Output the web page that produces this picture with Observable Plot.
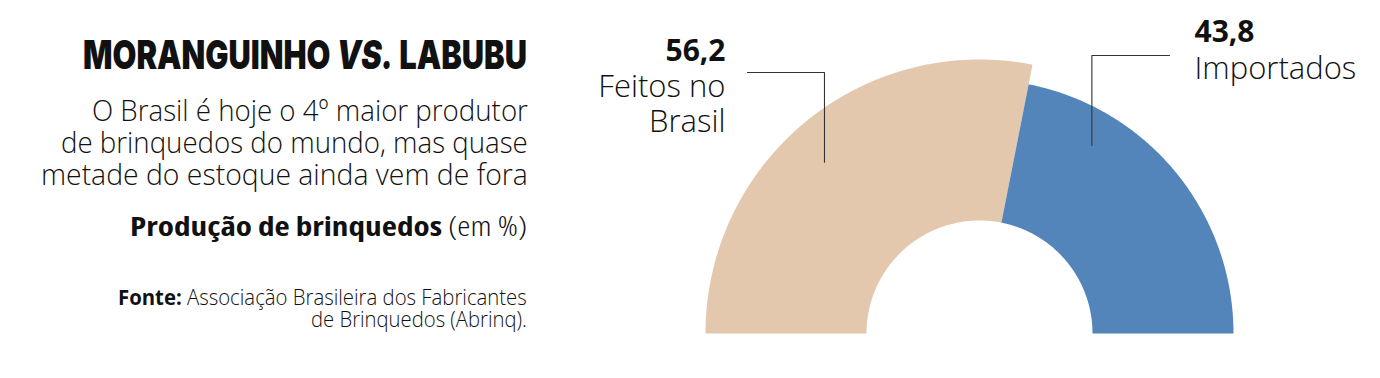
<!DOCTYPE html>
<html><head><meta charset="utf-8">
<script src="https://cdn.jsdelivr.net/npm/d3@7"></script>
<script src="https://cdn.jsdelivr.net/npm/@observablehq/plot@0.6"></script>
<style>
html,body{margin:0;padding:0;background:#fff;}
#wrap{position:relative;width:1380px;height:378px;overflow:hidden;background:#fff;}
#wrap > svg{position:absolute;left:0;top:0;}
#wrap text{white-space:pre;font-stretch:88%;}
</style></head><body><div id="wrap"></div>
<script>
// ---- data ----
const categories = ["Feitos no Brasil", "Importados"];
const values = [56.2, 43.8];
const labelLines = ["Feitos no\nBrasil", "Importados"];
const colors = ["#e4c8ae", "#5485ba"];

const titleParts = ["MORANGUINHO ", "VS.", " LABUBU"];
const subtitleLines = ["O Brasil é hoje o 4º maior produtor", "de brinquedos do mundo, mas quase", "metade do estoque ainda vem de fora"];
const chartTitleParts = ["Produção de brinquedos", " (em %)"];
const sourceParts = ["Fonte:", " Associação Brasileira dos Fabricantes"];
const sourceLine2 = "de Brinquedos (Abrinq).";

// ---- layout (pixels) ----
const W = 1380, H = 378;
const CX = 979, CY = 333;
const R_IN = 113;
const R_OUT = [274, 254];
const FONT = "'Open Sans', 'DejaVu Sans Condensed', sans-serif";
const layout = [
  {anchorFrac: 0.473, anchorR: 231, elbowY: 261, lineEndX: -232, textX: -254, anchor: "end", valueY: 273, nameY: 202},
  {anchorFrac: 0.25, anchorR: 219, elbowY: 278, lineEndX: 190, textX: 215, anchor: "start", valueY: 292, nameY: 255}
];

// ---- geometry from data ----
const arcs = d3.pie().sort(null).startAngle(-Math.PI / 2).endAngle(Math.PI / 2)(values);
const arcPts = [];
arcs.forEach((p, i) => {
  const n = 200;
  for (let k = 0; k <= n; k++) {
    const a = p.startAngle + (p.endAngle - p.startAngle) * k / n;
    arcPts.push({cat: categories[i], x: R_OUT[i] * Math.sin(a), y: R_OUT[i] * Math.cos(a)});
  }
  for (let k = n; k >= 0; k--) {
    const a = p.startAngle + (p.endAngle - p.startAngle) * k / n;
    arcPts.push({cat: categories[i], x: R_IN * Math.sin(a), y: R_IN * Math.cos(a)});
  }
});

const fmt = v => v.toLocaleString("pt-BR", {minimumFractionDigits: 1, maximumFractionDigits: 1});
const rows = categories.map((c, i) => {
  const L = layout[i], p = arcs[i];
  const a = p.startAngle + (p.endAngle - p.startAngle) * L.anchorFrac;
  const ax = L.anchorR * Math.sin(a), ay = L.anchorR * Math.cos(a);
  return {cat: c, value: fmt(values[i]), name: labelLines[i], ax, ay, ...L};
});
const leaderPts = rows.flatMap(r => [
  {cat: r.cat, x: r.ax, y: r.ay},
  {cat: r.cat, x: r.ax, y: r.elbowY},
  {cat: r.cat, x: r.lineEndX, y: r.elbowY}
]);

const textMarks = ["end", "start"].flatMap(anchor => {
  const d = rows.filter(r => r.anchor === anchor);
  return [
    Plot.text(d, {x: "textX", y: "valueY", text: "value", textAnchor: anchor, lineAnchor: "bottom",
      fontFamily: FONT, fontWeight: 750, fontSize: 30, fill: "#111"}),
    Plot.text(d, {x: "textX", y: "nameY", text: "name", textAnchor: anchor, lineAnchor: "bottom",
      fontFamily: FONT, fontWeight: 350, fontSize: 31, lineHeight: 35 / 31, fill: "#111"})
  ];
});

const chart = Plot.plot({
  width: W, height: H, margin: 0,
  x: {domain: [-CX, W - CX], axis: null},
  y: {domain: [CY - H, CY], axis: null},
  color: {domain: categories, range: colors},
  style: {background: "transparent", overflow: "visible"},
  marks: [
    Plot.line(arcPts, {x: "x", y: "y", z: "cat", fill: "cat", stroke: null, curve: "linear"}),
    Plot.line(leaderPts, {x: "x", y: "y", z: "cat", stroke: "#333", strokeWidth: 1.1}),
    ...textMarks
  ]
});
document.getElementById("wrap").appendChild(chart);

// ---- left text block (each line scaled horizontally to the reference width) ----
const svg = d3.select("#wrap").append("svg").attr("width", W).attr("height", H);
function line(parts, y, size, right, target, opts = {}) {
  const g = svg.append("g");
  const els = parts.map((p, i) => g.append("text").attr("y", 0)
    .attr("font-family", opts.family ?? FONT).attr("font-size", size).attr("fill", "#111")
    .attr("font-weight", (opts.weights ?? [])[i] ?? 350)
    .attr("font-style", (opts.styles ?? [])[i] ?? "normal")
    .style("font-stretch", opts.stretch ?? "90%")
    .text(p));
  const lens = els.map(e => e.node().getComputedTextLength());
  let x = 0;
  els.forEach((e, i) => { e.attr("x", x); x += lens[i]; });
  const k = target / x;
  g.attr("transform", `translate(${right - target},${y}) scale(${k},1)`);
}
line(titleParts, 69, 40, 527, 444, {family: "Inter, 'DejaVu Sans', sans-serif", weights: [900, 900, 900], styles: ["normal", "italic", "normal"], stretch: "100%"});
line([subtitleLines[0]], 121, 30, 528, 436);
line([subtitleLines[1]], 153, 30, 528, 467);
line([subtitleLines[2]], 185, 30, 528, 487);
line(chartTitleParts, 236, 27, 527, 397, {weights: [750, 350], stretch: "85%"});
line(sourceParts, 305, 22, 527, 409, {weights: [750, 350]});
line([sourceLine2], 327, 22, 527, 216);
</script></body></html>
